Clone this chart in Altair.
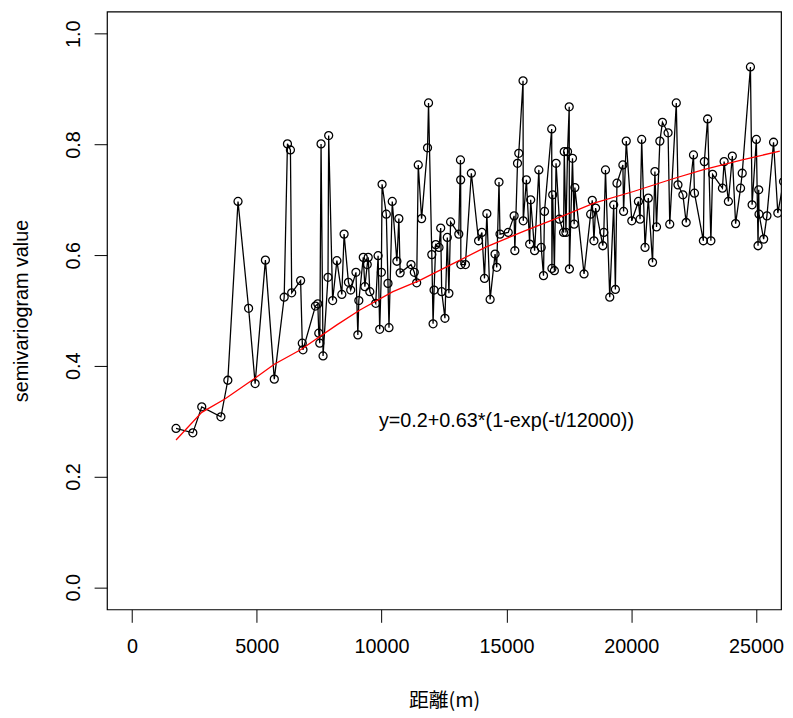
import altair as alt
import pandas as pd

# Empirical semivariogram (distance in m, semivariance)
dist = [1766, 2439, 2796, 3564, 3841, 4249, 4673, 4934, 5346, 5702, 6098, 6229, 6348, 6399,
        6756, 6823, 6851, 7350, 7445, 7484, 7524, 7575, 7655, 7853, 7880, 8039, 8209, 8407,
        8498, 8672, 8763, 8973, 9049, 9088, 9266, 9330, 9425, 9464, 9528, 9765, 9860, 9924,
        9991, 10019, 10189, 10256, 10296, 10427, 10613, 10692, 10743, 11179, 11310, 11405,
        11468, 11603, 11840, 11880, 12011, 12062, 12102, 12169, 12300, 12367, 12407, 12537,
        12632, 12696, 12763, 13092, 13159, 13167, 13175, 13357, 13595, 13884, 14018, 14121,
        14216, 14347, 14545, 14612, 14703, 14743, 15072, 15309, 15337, 15444, 15495, 15666,
        15674, 15800, 15931, 15971, 16129, 16299, 16394, 16485, 16525, 16814, 16822, 16854,
        16921, 16988, 17119, 17289, 17317, 17384, 17448, 17515, 17523, 17646, 17713, 17741,
        18109, 18374, 18438, 18505, 18572, 18861, 18901, 18968, 19139, 19297, 19364, 19428,
        19665, 19693, 19800, 20022, 20287, 20354, 20418, 20552, 20683, 20853, 20948, 21012,
        21146, 21249, 21475, 21542, 21804, 21871, 22069, 22200, 22493, 22532, 22889, 22928,
        23059, 23190, 23257, 23653, 23720, 23891, 24049, 24180, 24378, 24445, 24774, 24841,
        25011, 25079, 25106, 25118, 25304, 25435, 25700, 25871, 26100]
gamma = [0.287, 0.279, 0.326, 0.308, 0.374, 0.697, 0.504, 0.368, 0.591, 0.376, 0.524, 0.801,
         0.790, 0.532, 0.554, 0.441, 0.429, 0.508, 0.512, 0.459, 0.441, 0.801, 0.418, 0.560,
         0.816, 0.518, 0.590, 0.529, 0.638, 0.551, 0.537, 0.569, 0.456, 0.518, 0.596, 0.543,
         0.583, 0.596, 0.534, 0.513, 0.599, 0.466, 0.569, 0.728, 0.674, 0.549, 0.469, 0.697,
         0.589, 0.666, 0.568, 0.583, 0.569, 0.550, 0.763, 0.666, 0.794, 0.875, 0.601, 0.476,
         0.537, 0.619, 0.614, 0.649, 0.534, 0.486, 0.632, 0.531, 0.660, 0.638, 0.772, 0.736,
         0.583, 0.583, 0.748, 0.626, 0.641, 0.558, 0.675, 0.520, 0.602, 0.578, 0.732, 0.638,
         0.641, 0.671, 0.608, 0.766, 0.784, 0.915, 0.662, 0.736, 0.620, 0.700, 0.608, 0.754,
         0.614, 0.563, 0.679, 0.828, 0.576, 0.709, 0.572, 0.766, 0.665, 0.641, 0.787, 0.641,
         0.787, 0.868, 0.575, 0.775, 0.656, 0.722, 0.566, 0.674, 0.699, 0.626, 0.685, 0.617,
         0.641, 0.754, 0.524, 0.691, 0.538, 0.730, 0.763, 0.679, 0.806, 0.662, 0.697, 0.665,
         0.809, 0.614, 0.703, 0.587, 0.751, 0.651, 0.806, 0.840, 0.821, 0.656, 0.875, 0.727,
         0.709, 0.659, 0.781, 0.712, 0.626, 0.769, 0.846, 0.626, 0.746, 0.721, 0.769, 0.697,
         0.779, 0.657, 0.721, 0.748, 0.940, 0.691, 0.809, 0.617, 0.718, 0.674, 0.629, 0.671,
         0.804, 0.676, 0.733]

# Fitted model curve
fit_x = [1766, 2796, 3722, 4910, 5702, 6756, 8209, 9132, 10454, 11508, 12961, 14149,
         15733, 17317, 18505, 20089, 21673, 22861, 24445, 25950]
fit_y = [0.266, 0.316, 0.340, 0.377, 0.403, 0.429, 0.474, 0.501, 0.534, 0.554, 0.587,
         0.614, 0.644, 0.672, 0.694, 0.715, 0.738, 0.754, 0.772, 0.788]

label_text = ["y=0.2+0.63*(1-exp(-t/12000))"]
label_x = [15000]
label_y = [0.30]

x_ticks = [0, 5000, 10000, 15000, 20000, 25000]
y_ticks = [0.0, 0.2, 0.4, 0.6, 0.8, 1.0]

obs = pd.DataFrame({"dist": dist, "gamma": gamma, "idx": range(len(dist))})
fit = pd.DataFrame({"dist": fit_x, "gamma": fit_y, "idx": range(len(fit_x))})
lab = pd.DataFrame({"dist": label_x, "gamma": label_y, "text": label_text})

W, H = 681, 604
FONT = "Liberation Sans"

xscale = alt.Scale(domain=[-1000, 26000], nice=False, zero=False)
yscale = alt.Scale(domain=[-0.04, 1.04], nice=False, zero=False)

xaxis = alt.Axis(
    values=x_ticks, format="d", grid=False, domain=False,
    tickSize=13, tickColor="black", tickWidth=1,
    labelFont=FONT, labelFontSize=20, labelColor="black", labelPadding=15,
    labelFlush=False, labelOverlap=False,
    title="距離(m)", titleFont="Noto Sans CJK JP", titleFontSize=20,
    titleFontWeight="normal", titleColor="black",
    titleX=W / 2, titleY=92, titleBaseline="middle", titleAlign="center",
)
yaxis = alt.Axis(
    values=y_ticks, format=".1f", grid=False, domain=False,
    tickSize=13, tickColor="black", tickWidth=1,
    labelFont=FONT, labelFontSize=20, labelColor="black", labelPadding=15,
    labelAngle=270, labelAlign="center", labelBaseline="alphabetic",
    labelFlush=False, labelOverlap=False,
    title="semivariogram value", titleFont=FONT, titleFontSize=20,
    titleFontWeight="normal", titleColor="black",
    titleX=-86, titleY=H / 2, titleAngle=270, titleBaseline="middle", titleAlign="center",
)

base = alt.Chart(obs)
line = base.mark_line(color="black", strokeWidth=1.3, clip=True).encode(
    x=alt.X("dist:Q", scale=xscale, axis=xaxis),
    y=alt.Y("gamma:Q", scale=yscale, axis=yaxis),
    order="idx:Q",
)
pts = base.mark_point(shape="circle", filled=False, color="black", size=65,
                      strokeWidth=1.3, clip=True, opacity=1).encode(
    x=alt.X("dist:Q", scale=xscale),
    y=alt.Y("gamma:Q", scale=yscale),
)
fit_line = alt.Chart(fit).mark_line(color="red", strokeWidth=1.3, clip=True).encode(
    x=alt.X("dist:Q", scale=xscale),
    y=alt.Y("gamma:Q", scale=yscale),
    order="idx:Q",
)
txt = alt.Chart(lab).mark_text(font=FONT, fontSize=20, color="black",
                               align="center", baseline="middle").encode(
    x=alt.X("dist:Q", scale=xscale),
    y=alt.Y("gamma:Q", scale=yscale),
    text="text:N",
)

chart = alt.layer(line, pts, fit_line, txt).properties(
    width=W, height=H,
    autosize=alt.AutoSizeParams(type="none"),
    padding={"left": 100, "top": 0, "right": 4, "bottom": 100},
    background="white",
).configure_view(stroke="black", strokeWidth=1.2)

chart.save("out.html", embed_options={"renderer": "svg", "actions": False})
